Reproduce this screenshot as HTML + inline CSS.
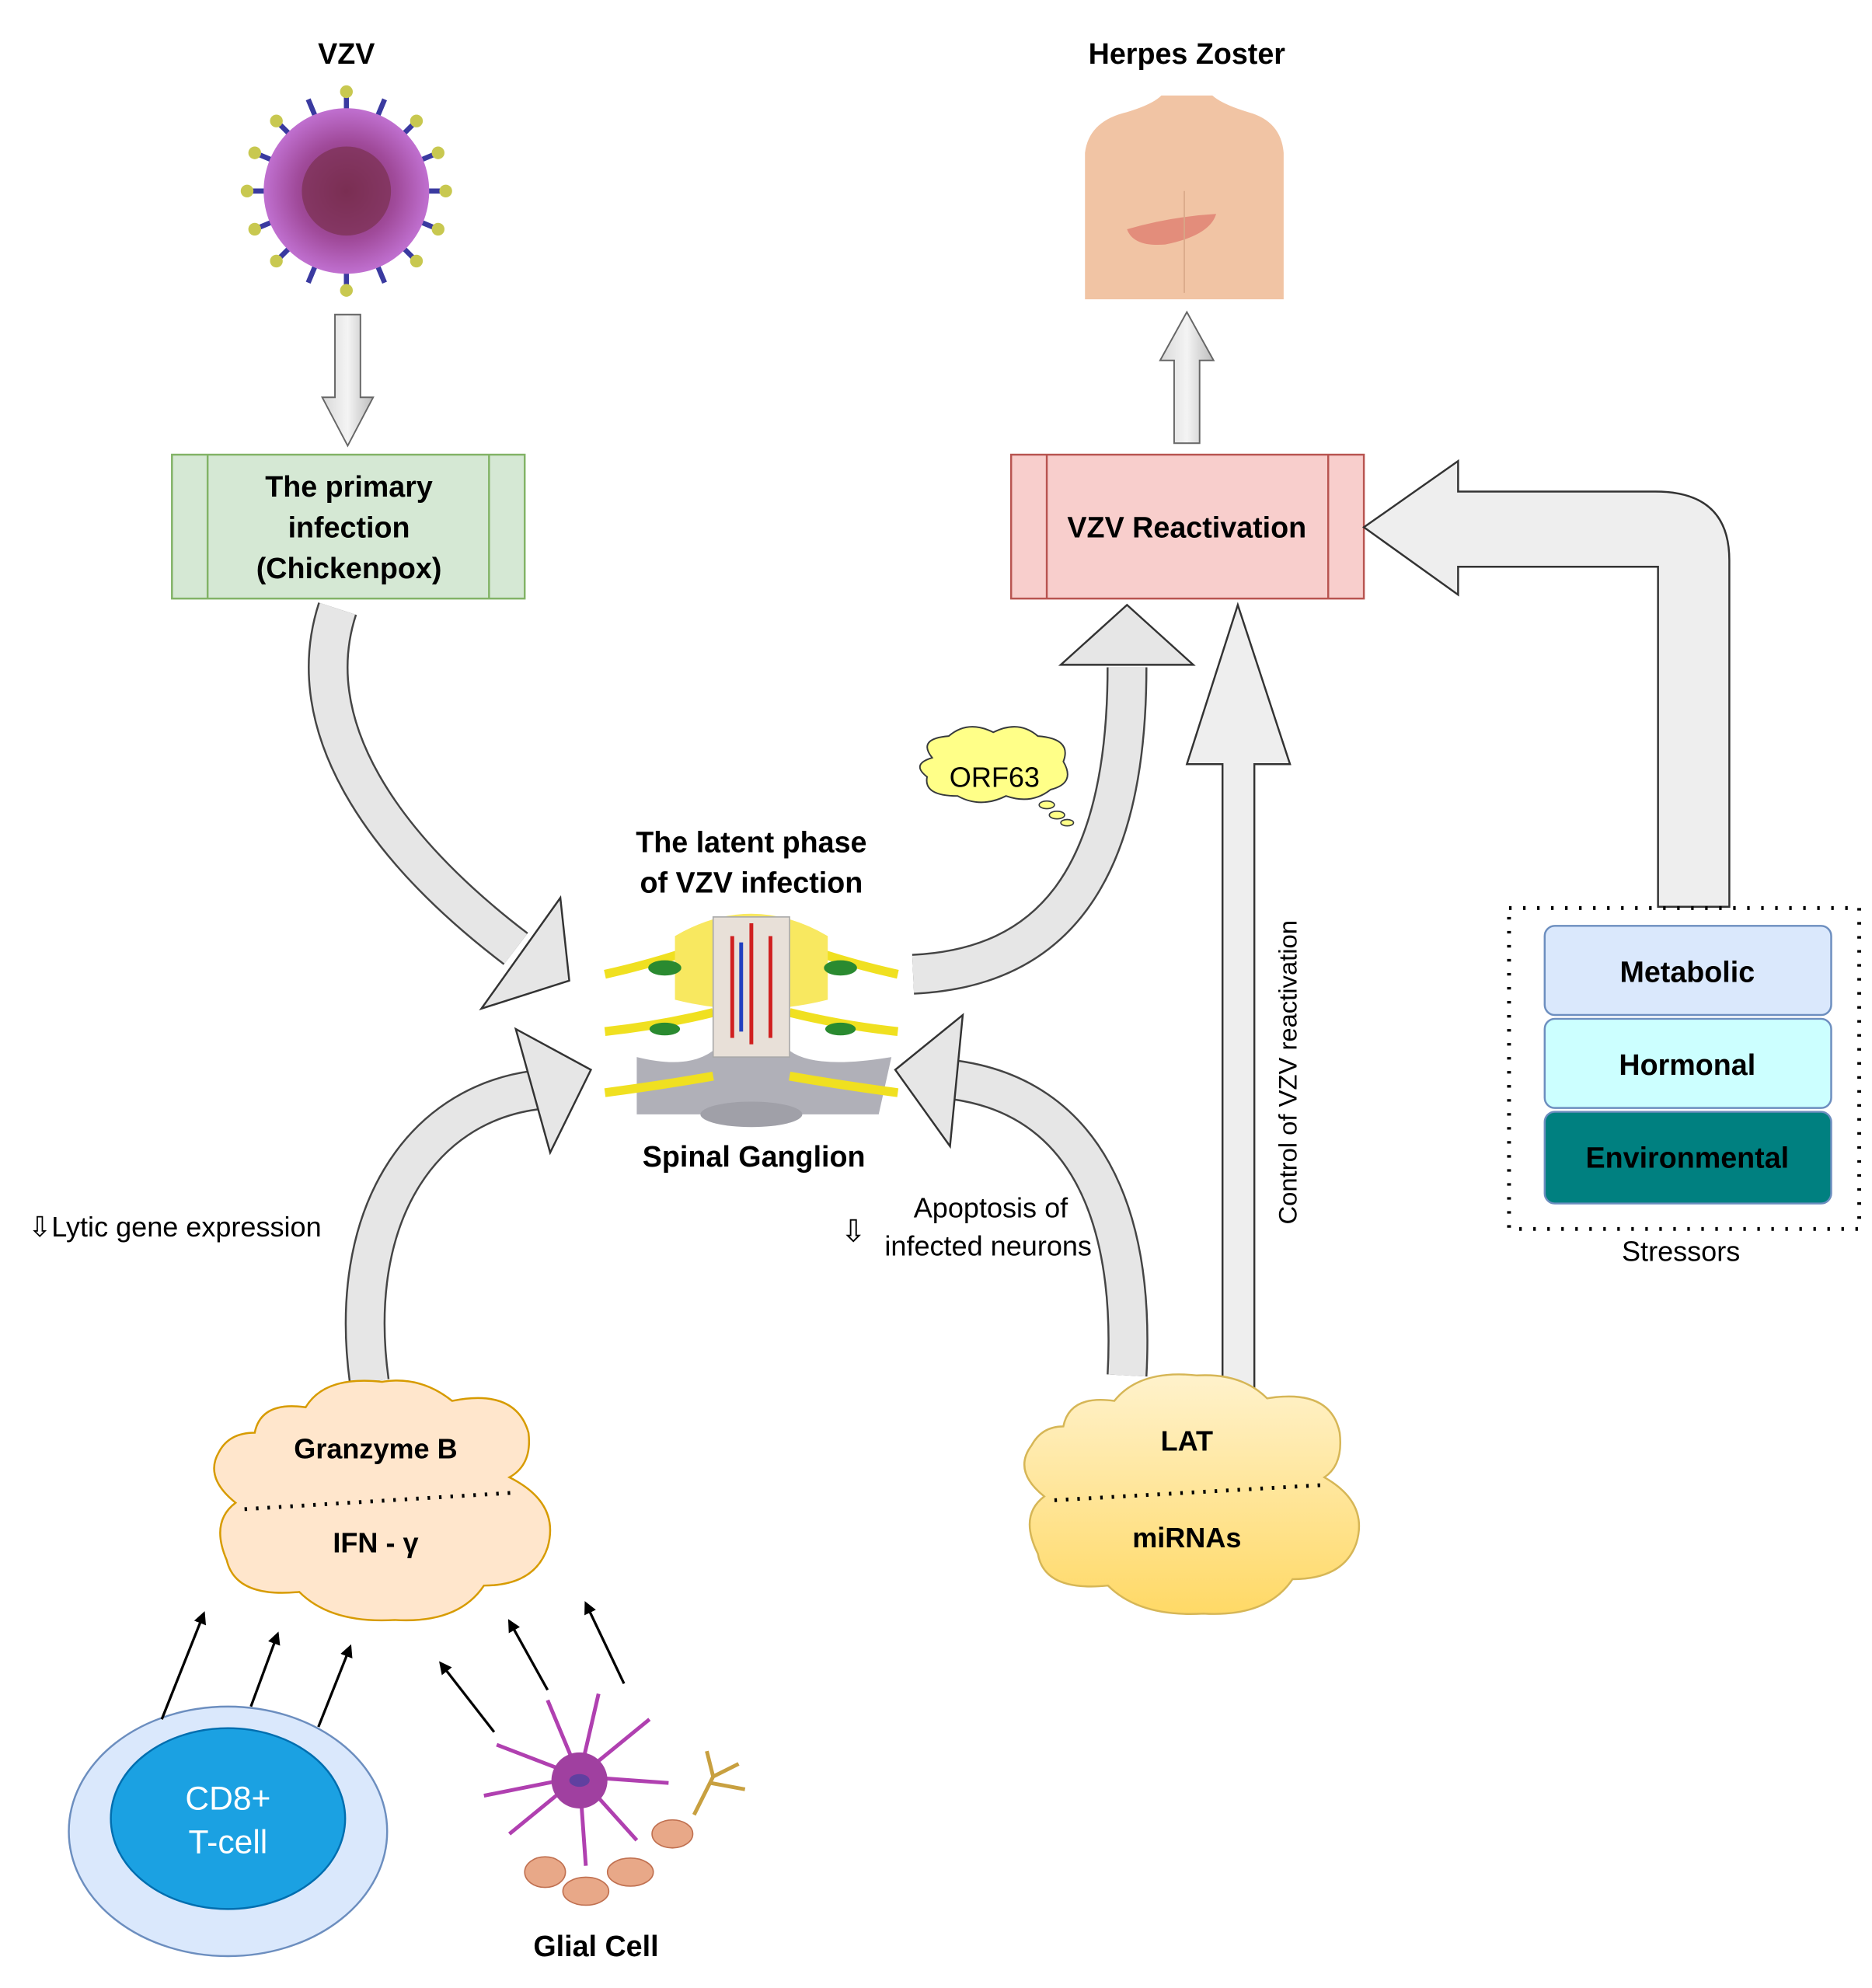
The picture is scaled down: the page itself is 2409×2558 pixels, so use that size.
<!DOCTYPE html>
<html><head><meta charset="utf-8"><style>
html,body{margin:0;padding:0;background:#fff;}
svg{display:block;}
text{font-family:"Liberation Sans",Arial,sans-serif;}
</style></head><body>
<svg width="2409" height="2558" viewBox="0 0 1470 1561" xmlns="http://www.w3.org/2000/svg">
<defs>
<linearGradient id="ga" x1="0" y1="0" x2="1" y2="0"><stop offset="0" stop-color="#d8d8d8"/><stop offset="0.5" stop-color="#f4f4f4"/><stop offset="1" stop-color="#bcbcbc"/></linearGradient>
<linearGradient id="lat" x1="0" y1="0" x2="0" y2="1"><stop offset="0" stop-color="#fff2cc"/><stop offset="1" stop-color="#ffd966"/></linearGradient>
<radialGradient id="vir" cx="0.5" cy="0.5" r="0.5"><stop offset="0" stop-color="#7a2a5a"/><stop offset="0.6" stop-color="#a04a9a"/><stop offset="1" stop-color="#c070d0"/></radialGradient>
<marker id="ar" markerWidth="10" markerHeight="10" refX="8" refY="5" orient="auto" markerUnits="userSpaceOnUse"><path d="M0,0 L10,5 L0,10 z" fill="#000"/></marker>
</defs>

<!-- VZV -->
<text x="272" y="50" font-size="23" font-weight="bold" text-anchor="middle">VZV</text>
<g stroke="#3a3aa0" stroke-width="4">
<line x1="272" y1="72" x2="272" y2="228"/><line x1="194" y1="150" x2="350" y2="150"/>
<line x1="217" y1="95" x2="327" y2="205"/><line x1="327" y1="95" x2="217" y2="205"/>
<line x1="242" y1="78" x2="302" y2="222"/><line x1="302" y1="78" x2="242" y2="222"/>
<line x1="200" y1="120" x2="344" y2="180"/><line x1="200" y1="180" x2="344" y2="120"/>
</g>
<g fill="#c8c850"><circle cx="272" cy="72" r="5"/><circle cx="272" cy="228" r="5"/><circle cx="194" cy="150" r="5"/><circle cx="350" cy="150" r="5"/><circle cx="217" cy="95" r="5"/><circle cx="327" cy="205" r="5"/><circle cx="327" cy="95" r="5"/><circle cx="217" cy="205" r="5"/><circle cx="200" cy="120" r="5"/><circle cx="344" cy="180" r="5"/><circle cx="200" cy="180" r="5"/><circle cx="344" cy="120" r="5"/></g>
<circle cx="272" cy="150" r="65" fill="url(#vir)"/>
<circle cx="272" cy="150" r="35" fill="#7a3050" opacity="0.7"/>

<!-- down arrow -->
<polygon points="263,247 283,247 283,312 293,312 273,350 253,312 263,312" fill="url(#ga)" stroke="#666" stroke-width="1.2"/>

<!-- primary infection box -->
<rect x="135" y="357" width="277" height="113" fill="#d5e8d4" stroke="#82b366" stroke-width="1.5"/>
<line x1="163" y1="357" x2="163" y2="470" stroke="#82b366" stroke-width="1.5"/>
<line x1="384" y1="357" x2="384" y2="470" stroke="#82b366" stroke-width="1.5"/>
<text x="274" y="390" font-size="23" font-weight="bold" text-anchor="middle">The primary</text>
<text x="274" y="422" font-size="23" font-weight="bold" text-anchor="middle">infection</text>
<text x="274" y="454" font-size="23" font-weight="bold" text-anchor="middle">(Chickenpox)</text>

<!-- Herpes zoster -->
<text x="932" y="50" font-size="23" font-weight="bold" text-anchor="middle">Herpes Zoster</text>
<path d="M852,235 L852,120 Q855,95 885,88 Q905,82 912,75 L952,75 Q960,82 980,88 Q1006,95 1008,120 L1008,235 Z" fill="#f1c4a4"/>
<path d="M885,180 Q920,170 955,168 Q950,185 915,192 Q890,194 885,180Z" fill="#e08070" opacity="0.8"/>
<line x1="930" y1="150" x2="930" y2="230" stroke="#d8a888" stroke-width="1"/>

<!-- up arrow -->
<polygon points="922,348 942,348 942,283 953,283 932,245 911,283 922,283" fill="url(#ga)" stroke="#666" stroke-width="1.2"/>

<!-- VZV Reactivation box -->
<rect x="794" y="357" width="277" height="113" fill="#f8cecc" stroke="#b85450" stroke-width="1.5"/>
<line x1="822" y1="357" x2="822" y2="470" stroke="#b85450" stroke-width="1.5"/>
<line x1="1043" y1="357" x2="1043" y2="470" stroke="#b85450" stroke-width="1.5"/>
<text x="932" y="422" font-size="23" font-weight="bold" text-anchor="middle">VZV Reactivation</text>

<!-- L-shaped arrow from stressors -->
<path d="M1302,712 L1302,445 L1145,445 L1145,467 L1071,414 L1145,362 L1145,386 L1300,386 Q1358,386 1358,440 L1358,712 Z" fill="#eeeeee" stroke="#333" stroke-width="1.5"/>

<!-- Stressors -->
<rect x="1185" y="713" width="275" height="252" fill="none" stroke="#000" stroke-width="3" stroke-dasharray="2,9"/>
<rect x="1213" y="727" width="225" height="70" rx="8" fill="#dae8fc" stroke="#6c8ebf" stroke-width="1.5"/>
<rect x="1213" y="800" width="225" height="70" rx="8" fill="#ccffff" stroke="#6c8ebf" stroke-width="1.5"/>
<rect x="1213" y="873" width="225" height="72" rx="8" fill="#008080" stroke="#6c8ebf" stroke-width="1.5"/>
<text x="1325" y="771" font-size="23" font-weight="bold" text-anchor="middle">Metabolic</text>
<text x="1325" y="844" font-size="23" font-weight="bold" text-anchor="middle">Hormonal</text>
<text x="1325" y="917" font-size="23" font-weight="bold" text-anchor="middle">Environmental</text>
<text x="1320" y="990" font-size="22" text-anchor="middle">Stressors</text>

<!-- vertical arrow LAT -> reactivation -->
<polygon points="960,1095 985,1095 985,600 1013,600 972,475 932,600 960,600" fill="#eeeeee" stroke="#333" stroke-width="1.5"/>
<text transform="translate(1018,842) rotate(-90)" font-size="20" text-anchor="middle">Control of VZV reactivation</text>

<!-- curved block arrows -->
<g fill="none" stroke-linecap="butt">
<path d="M265,478 C235,570 300,665 405,745" stroke="#444" stroke-width="32"/>
<path d="M265,478 C235,570 300,665 405,745" stroke="#e6e6e6" stroke-width="29"/>
<path d="M290,1085 C272,955 330,868 420,856" stroke="#444" stroke-width="32"/>
<path d="M290,1085 C272,955 330,868 420,856" stroke="#e6e6e6" stroke-width="29"/>
<path d="M885,1080 C892,950 850,862 750,848" stroke="#444" stroke-width="32"/>
<path d="M885,1080 C892,950 850,862 750,848" stroke="#e6e6e6" stroke-width="29"/>
<path d="M717,765 C825,760 885,690 885,524" stroke="#444" stroke-width="32"/>
<path d="M717,765 C825,760 885,690 885,524" stroke="#e6e6e6" stroke-width="29"/>
</g>
<!-- cover tails so thin edges look like block arrow -->
<polygon points="447,770 378,792 440,705" fill="#e6e6e6" stroke="#333" stroke-width="1.5"/>
<polygon points="464,840 405,808 432,905" fill="#e6e6e6" stroke="#333" stroke-width="1.5"/>
<polygon points="703,840 756,797 746,900" fill="#e6e6e6" stroke="#333" stroke-width="1.5"/>
<polygon points="885,475 833,522 937,522" fill="#e6e6e6" stroke="#333" stroke-width="1.5"/>

<!-- ORF63 -->
<path d="M732,595 Q720,580 745,578 Q760,565 780,575 Q800,565 815,578 Q842,580 835,598 Q845,615 825,620 Q810,632 790,625 Q770,635 752,625 Q725,625 728,610 Q715,600 732,595Z" fill="#ffff88" stroke="#36393d" stroke-width="1.2"/>
<text x="781" y="618" font-size="22" text-anchor="middle">ORF63</text>
<ellipse cx="822" cy="632" rx="6" ry="3" fill="#ffff88" stroke="#36393d"/>
<ellipse cx="830" cy="640" rx="6" ry="3" fill="#ffff88" stroke="#36393d"/>
<ellipse cx="838" cy="646" rx="5" ry="2.5" fill="#ffff88" stroke="#36393d"/>

<!-- latent phase -->
<text x="590" y="669" font-size="23" font-weight="bold" text-anchor="middle">The latent phase</text>
<text x="590" y="701" font-size="23" font-weight="bold" text-anchor="middle">of VZV infection</text>
<!-- ganglion -->
<path d="M500,830 Q540,840 560,825 L620,825 Q640,840 700,830 L690,875 L500,875 Z" fill="#b0b0b8"/>
<ellipse cx="590" cy="875" rx="40" ry="10" fill="#a0a0a8"/>
<g stroke="#f0e020" stroke-width="7" fill="none">
<path d="M475,765 Q520,755 560,740"/><path d="M620,740 Q660,755 705,765"/>
<path d="M475,810 Q520,805 560,795"/><path d="M620,795 Q660,805 705,810"/>
<path d="M475,858 Q520,852 560,845"/><path d="M620,845 Q660,852 705,858"/>
</g>
<path d="M530,735 Q590,700 650,735 L650,785 Q590,800 530,785Z" fill="#f8e860"/>
<rect x="560" y="720" width="60" height="110" fill="#e8e0d8" stroke="#aaa"/>
<path d="M575,735 L575,815 M590,725 L590,820 M605,735 L605,815" stroke="#d02020" stroke-width="3"/>
<path d="M582,740 L582,810" stroke="#2040c0" stroke-width="3"/>
<ellipse cx="522" cy="760" rx="13" ry="6" fill="#2a8a30"/><ellipse cx="660" cy="760" rx="13" ry="6" fill="#2a8a30"/>
<ellipse cx="522" cy="808" rx="12" ry="5" fill="#2a8a30"/><ellipse cx="660" cy="808" rx="12" ry="5" fill="#2a8a30"/>
<text x="592" y="916" font-size="23" font-weight="bold" text-anchor="middle">Spinal Ganglion</text>

<!-- side labels -->
<text x="22" y="971" font-size="22">⇩Lytic gene expression</text>
<text x="660" y="975" font-size="24">⇩</text>
<text x="778" y="956" font-size="22" text-anchor="middle">Apoptosis of</text>
<text x="776" y="986" font-size="22" text-anchor="middle">infected neurons</text>

<!-- Granzyme cloud -->
<path d="M200,1125 Q205,1100 240,1105 Q255,1080 300,1085 Q330,1080 355,1100 Q405,1090 415,1125 Q418,1150 400,1160 Q440,1180 430,1215 Q420,1245 380,1245 Q360,1275 310,1272 Q260,1275 235,1250 Q185,1255 178,1225 Q165,1195 185,1180 Q160,1160 172,1140 Q180,1125 200,1125Z" fill="#ffe6cc" stroke="#d79b00" stroke-width="1.5"/>
<text x="295" y="1145" font-size="22" font-weight="bold" text-anchor="middle">Granzyme B</text>
<line x1="192" y1="1185" x2="405" y2="1172" stroke="#000" stroke-width="3" stroke-dasharray="2,7"/>
<text x="295" y="1219" font-size="22" font-weight="bold" text-anchor="middle">IFN - γ</text>

<!-- LAT cloud -->
<path d="M835,1120 Q840,1095 875,1100 Q895,1075 940,1080 Q975,1078 995,1098 Q1045,1090 1052,1125 Q1055,1150 1040,1160 Q1075,1180 1065,1212 Q1055,1240 1015,1240 Q995,1270 945,1267 Q895,1270 870,1245 Q820,1250 815,1220 Q800,1190 820,1175 Q795,1155 810,1135 Q818,1120 835,1120Z" fill="url(#lat)" stroke="#d6b656" stroke-width="1.5"/>
<text x="932" y="1139" font-size="22" font-weight="bold" text-anchor="middle">LAT</text>
<line x1="828" y1="1178" x2="1040" y2="1166" stroke="#000" stroke-width="3" stroke-dasharray="2,7"/>
<text x="932" y="1215" font-size="22" font-weight="bold" text-anchor="middle">miRNAs</text>

<!-- CD8 -->
<ellipse cx="179" cy="1438" rx="125" ry="98" fill="#dae8fc" stroke="#6c8ebf" stroke-width="1.5"/>
<ellipse cx="179" cy="1428" rx="92" ry="71" fill="#1ba1e2" stroke="#006eaf" stroke-width="1.5"/>
<text x="179" y="1421" font-size="26" fill="#fff" text-anchor="middle">CD8+</text>
<text x="179" y="1455" font-size="26" fill="#fff" text-anchor="middle">T-cell</text>

<!-- Glial cell -->
<g stroke="#b040b0" stroke-width="3" fill="none">
<path d="M455,1395 L390,1370 M455,1395 L380,1410 M455,1395 L400,1440 M455,1395 L430,1335 M455,1395 L470,1330 M455,1395 L510,1350 M455,1395 L525,1400 M455,1395 L500,1445 M455,1395 L460,1465"/>
</g>
<circle cx="455" cy="1398" r="22" fill="#a040a0"/>
<ellipse cx="455" cy="1398" rx="8" ry="5" fill="#6040a0"/>
<g fill="#e8a888" stroke="#c07050">
<ellipse cx="428" cy="1470" rx="16" ry="12"/><ellipse cx="460" cy="1485" rx="18" ry="11"/><ellipse cx="495" cy="1470" rx="18" ry="11"/><ellipse cx="528" cy="1440" rx="16" ry="11"/>
</g>
<path d="M545,1425 L560,1395 L555,1375 M560,1395 L580,1385 M558,1400 L585,1405" stroke="#c8a040" stroke-width="3" fill="none"/>
<text x="468" y="1536" font-size="23" font-weight="bold" text-anchor="middle">Glial Cell</text>

<!-- small black arrows -->
<g stroke="#000" stroke-width="2" marker-end="url(#ar)">
<line x1="127" y1="1350" x2="160" y2="1267"/>
<line x1="197" y1="1340" x2="218" y2="1283"/>
<line x1="250" y1="1356" x2="275" y2="1293"/>
<line x1="388" y1="1360" x2="346" y2="1306"/>
<line x1="430" y1="1327" x2="400" y2="1273"/>
<line x1="490" y1="1322" x2="460" y2="1259"/>
</g>
</svg>
</body></html>
